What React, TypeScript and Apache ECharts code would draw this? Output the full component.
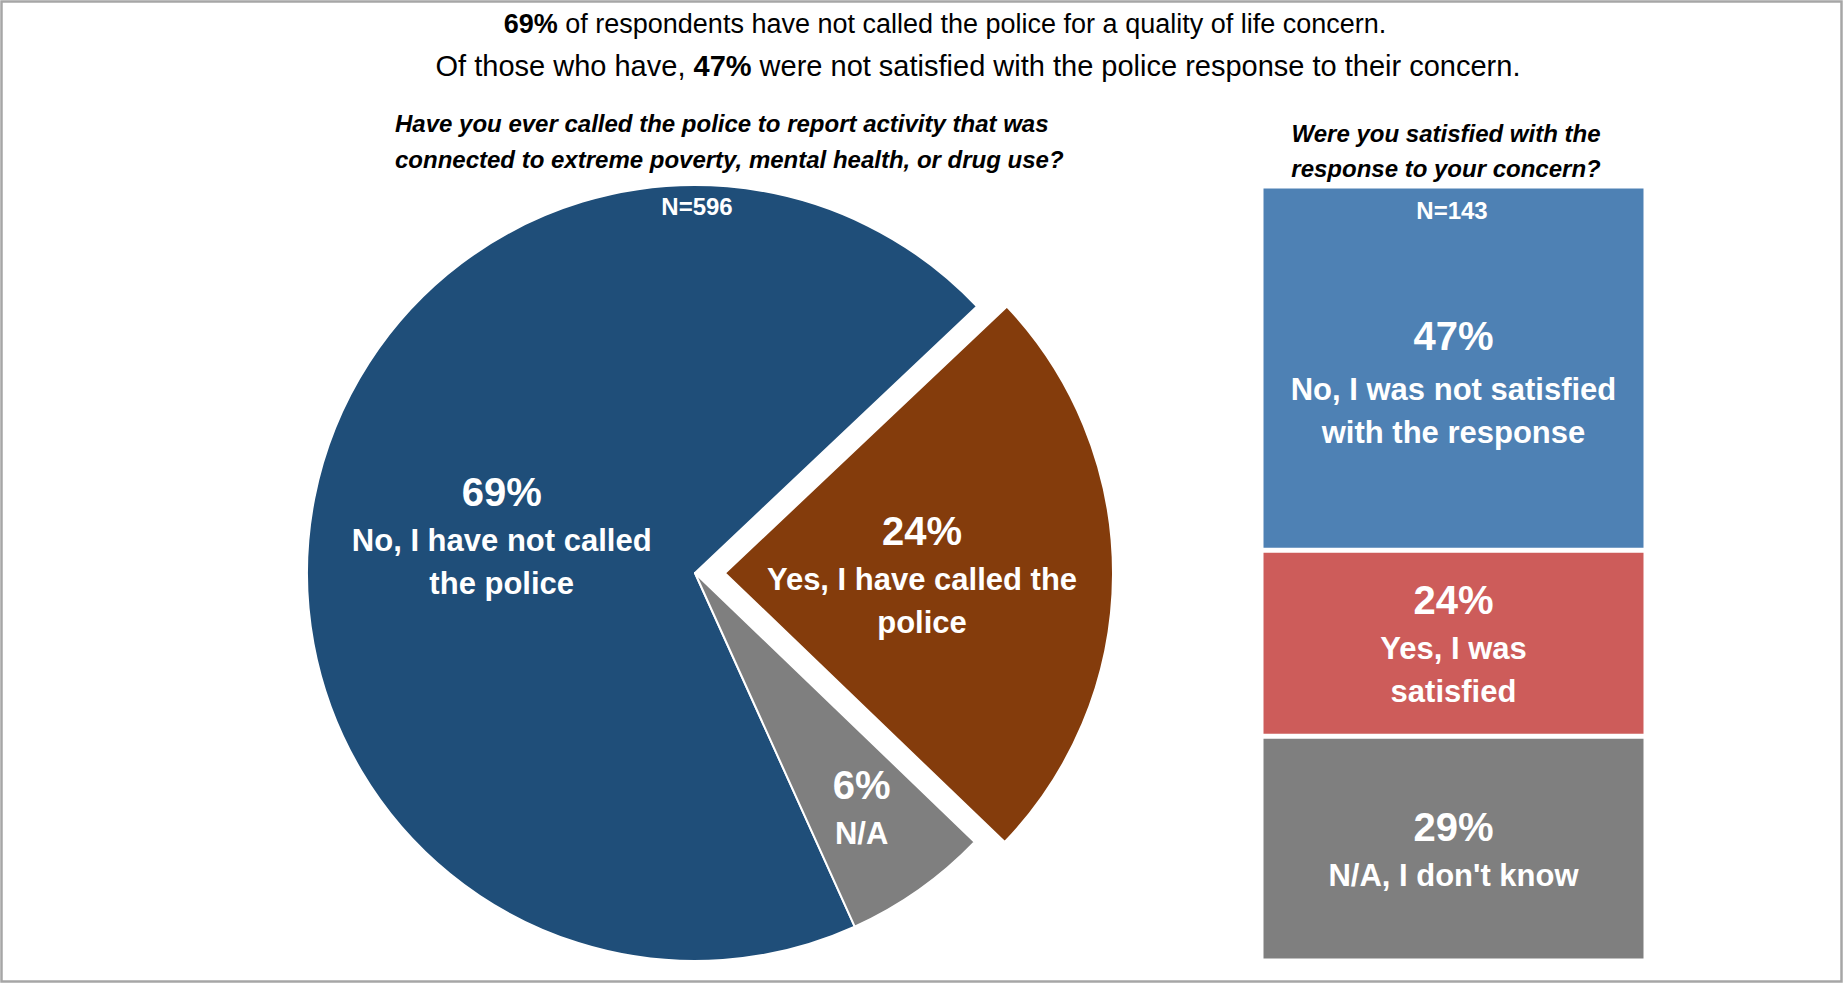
import React, { useEffect, useRef } from 'react';
import * as echarts from 'echarts';

const FONT = '"Liberation Sans", Arial, Helvetica, sans-serif';

// Pie: Have you ever called the police...
const pieCategories = ['No, I have not called\nthe police', 'Yes, I have called the\npolice', 'N/A'];
const pieValues = [69, 24, 6];
const pieColors = ['#1F4E79', '#843C0C', '#7F7F7F'];
const pieN = 'N=596';

// Stacked bar: Were you satisfied...
const barCategories = ['No, I was not satisfied\nwith the response', 'Yes, I was\nsatisfied', "N/A, I don't know"];
const barValues = [47, 24, 29];
const barColors = ['#4E81B4', '#CD5C5A', '#7F7F7F'];
const barN = 'N=143';

const titleLines = [
  '{b|69%} of respondents have not called the police for a quality of life concern.',
  'Of those who have, {b|47%} were not satisfied with the police response to their concern.',
];
const pieQuestion = [
  'Have you ever called the police to report activity that was',
  'connected to extreme poverty, mental health, or drug use?',
];
const barQuestion = ['Were you satisfied with the', 'response to your concern?'];

const makeRich = (pLine: number) => ({
  p: { fontSize: 40, fontWeight: 'bold', color: '#fff', lineHeight: pLine, fontFamily: FONT },
  l: { fontSize: 31, fontWeight: 'bold', color: '#fff', lineHeight: 43, fontFamily: FONT },
});

const fmt = (value: number, name: string) =>
  `{p|${value}%}\n` + name.split('\n').map((s) => `{l|${s}}`).join('\n');

const titleFmt = [
  { x: 945, y: 24, size: 27 },
  { x: 978, y: 66, size: 29 },
];

export default function App() {
  const ref = useRef<HTMLDivElement>(null);
  useEffect(() => {
    const chart = echarts.init(ref.current!, null, { renderer: 'svg' });
    const sum = pieValues.reduce((a, b) => a + b, 0);
    const startAngle = 43.4 + (360 * pieValues[0]) / sum;
    chart.setOption({
      animation: false,
      backgroundColor: '#fff',
      grid: { left: 1261, top: 186, width: 385, height: 775 },
      xAxis: { type: 'category', data: ['all'], show: false },
      yAxis: { type: 'value', min: 0, max: 100, inverse: true, show: false },
      graphic: [
        {
          type: 'rect',
          shape: { x: 1.5, y: 1.5, width: 1840, height: 980 },
          style: { fill: 'none', stroke: '#A6A6A6', lineWidth: 2.5 },
          silent: true,
        },
        ...titleLines.map((t, i) => ({
          type: 'text',
          x: titleFmt[i].x,
          y: titleFmt[i].y,
          style: {
            text: t,
            fontSize: titleFmt[i].size,
            fontFamily: FONT,
            fill: '#000',
            align: 'center',
            verticalAlign: 'middle',
            rich: { b: { fontWeight: 'bold', fontSize: titleFmt[i].size, fontFamily: FONT } },
          },
        })),
        ...pieQuestion.map((t, i) => ({
          type: 'text',
          x: 395,
          y: 123 + i * 36,
          style: {
            text: t,
            fontSize: 24,
            fontWeight: 'bold',
            fontStyle: 'italic',
            fontFamily: FONT,
            fill: '#000',
            align: 'left',
            verticalAlign: 'middle',
          },
        })),
        ...barQuestion.map((t, i) => ({
          type: 'text',
          x: 1446,
          y: 133 + i * 35,
          style: {
            text: t,
            fontSize: 24,
            fontWeight: 'bold',
            fontStyle: 'italic',
            fontFamily: FONT,
            fill: '#000',
            align: 'center',
            verticalAlign: 'middle',
          },
        })),
        {
          type: 'text',
          x: 697,
          y: 206,
          z: 100,
          style: { text: pieN, fontSize: 24, fontWeight: 'bold', fontFamily: FONT, fill: '#fff', align: 'center', verticalAlign: 'middle' },
        },
        {
          type: 'text',
          x: 1452,
          y: 210,
          z: 100,
          style: { text: barN, fontSize: 24, fontWeight: 'bold', fontFamily: FONT, fill: '#fff', align: 'center', verticalAlign: 'middle' },
        },
      ],
      series: [
        {
          type: 'pie',
          center: [695, 573],
          radius: 388,
          startAngle,
          clockwise: true,
          selectedMode: 'single',
          selectedOffset: 30,
          avoidLabelOverlap: false,
          emphasis: { disabled: true },
          labelLine: { show: false },
          itemStyle: { borderColor: '#fff', borderWidth: 2 },
          label: {
            show: true,
            position: 'inside',
            formatter: (p: any) => fmt(p.value, p.name),
            rich: makeRich(54),
          },
          data: pieCategories.map((name, i) => ({
            name,
            value: pieValues[i],
            selected: i === 1,
            itemStyle: { color: pieColors[i] },
            select: { itemStyle: { color: pieColors[i], borderColor: '#fff', borderWidth: 2 } },
            label: i === 2 ? { offset: [53, 73] } : undefined,
          })),
        },
        ...barCategories.map((name, i) => ({
          type: 'bar',
          name,
          stack: 'total',
          barWidth: '100%',
          emphasis: { disabled: true },
          itemStyle: { color: barColors[i], borderColor: '#fff', borderWidth: 2.5 },
          label: {
            show: true,
            position: 'inside',
            offset: i === 0 ? [0, 11] : [0, 0],
            formatter: (p: any) => fmt(p.value, name),
            rich: makeRich(i === 0 ? 64 : 54),
          },
          data: [barValues[i]],
        })),
      ],
    });
    return () => chart.dispose();
  }, []);
  return <div ref={ref} style={{ position: 'fixed', left: 0, top: 0, width: 1844, height: 986 }} />;
}
